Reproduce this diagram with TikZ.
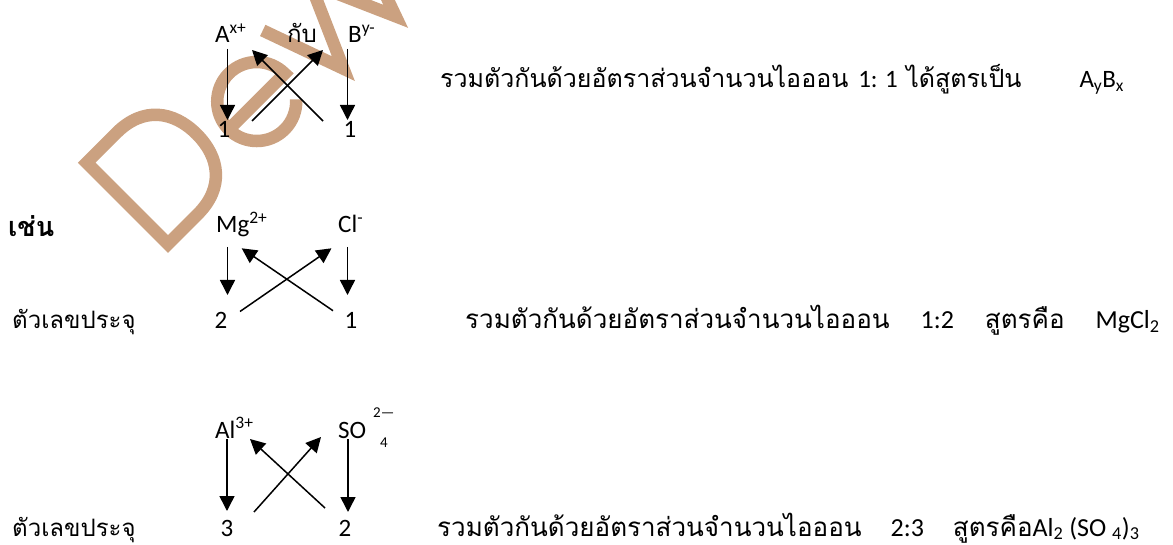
\documentclass[tikz,border=0pt]{standalone}
\usepackage{fontspec}
\setmainfont{Loma}[Script=Thai]
\newfontfamily\latn{Carlito}
\usetikzlibrary{arrows.meta}
\definecolor{wmc}{RGB}{203,161,128}
\begin{document}
\begin{tikzpicture}[x=1pt,y=-1pt,
  txt/.style={anchor=base west, inner sep=0pt, font=\fontsize{25}{28}\selectfont},
  big/.style={anchor=base west, inner sep=0pt, font=\fontsize{26}{29}\selectfont},
  lat/.style={anchor=base west, inner sep=0pt, font=\latn\fontsize{25}{28}\selectfont},
  num/.style={anchor=base, inner sep=0pt, font=\latn\fontsize{25}{28}\selectfont},
  sm/.style={anchor=base west, inner sep=0pt, font=\latn\fontsize{15}{17}\selectfont},
  arr/.style={line width=1.5pt, -{Triangle[width=15pt,length=15pt]}},
  wm/.style={draw=wmc, line width=12.5pt, line join=miter}]
\useasboundingbox (0,0) rectangle (1173,545);
% watermark
\begin{scope}[shift={(168,244)}, rotate=45, x=1pt, y=1pt]
  \draw[wm] (0,0) -- (0,115) -- (42,115) .. controls (80,115) and (98,90) .. (98,57.5)
        .. controls (98,25) and (80,0) .. (42,0) -- cycle;
  \draw[wm] (124,38) -- (203,38) arc[start angle=0, end angle=318, radius=39.5];
  \draw[wm] (218,84) -- (248,0) -- (285,84) -- (322,0) -- (352,84);
\end{scope}
% diagram 1
\node[lat] (A) at (215,43) {A\textsuperscript{x+}};
\node[txt, font=\fontsize{24}{27}\selectfont] (kap) at (287,43) {กับ};
\node[lat] (B) at (348,43) {B\textsuperscript{y-}};
\node[num] (n1a) at (224,138) {1};
\node[num] (n1b) at (350,138) {1};
\coordinate (a1) at (227.5,49); \coordinate (a1e) at (227.5,120);
\coordinate (b1) at (347.5,49); \coordinate (b1e) at (347.5,120);
\coordinate (c1s) at (252,121); \coordinate (c1e) at (323,50);
\coordinate (d1s) at (323,121); \coordinate (d1e) at (252,50);
\draw[arr] (a1) -- (a1e);
\draw[arr] (b1) -- (b1e);
\draw[arr] (c1s) -- (c1e);
\draw[arr] (d1s) -- (d1e);
\node[txt] (r1) at (440,88) {รวมตัวกันด้วยอัตราส่วนจำนวนไอออน\hspace{10pt}{\latn 1: 1} ได้สูตรเป็น\hspace{58pt}{\latn A\textsubscript{y}B\textsubscript{x}}};
% diagram 2
\node[txt, font=\bfseries\fontsize{27}{30}\selectfont] (chen) at (8,237) {เช่น};
\node[lat] (Mg) at (216,233) {Mg\textsuperscript{2+}};
\node[lat] (Cl) at (338,233) {Cl\textsuperscript{-}};
\node[txt, font=\fontsize{24}{27}\selectfont] (lab2) at (12,329) {ตัวเลขประจุ};
\node[num] (n2a) at (221,329) {2};
\node[num] (n2b) at (351,329) {1};
\coordinate (a2) at (227.5,247); \coordinate (a2e) at (227.5,295);
\coordinate (b2) at (347.5,247); \coordinate (b2e) at (347.5,295);
\coordinate (c2s) at (240,311.5); \coordinate (c2e) at (331.5,248.3);
\coordinate (d2s) at (333,310.7); \coordinate (d2e) at (241.7,248.3);
\draw[arr] (a2) -- (a2e);
\draw[arr] (b2) -- (b2e);
\draw[arr] (c2s) -- (c2e);
\draw[arr] (d2s) -- (d2e);
\node[big] (r2) at (465,329) {รวมตัวกันด้วยอัตราส่วนจำนวนไอออน\hspace{31pt}{\latn 1:2}\hspace{31pt}สูตรคือ\hspace{31pt}{\latn MgCl\textsubscript{2}}};
% diagram 3
\node[lat] (Al) at (215,438) {Al\textsuperscript{3+}};
\node[lat] (SO) at (338,438) {SO};
\node[sm] (so2) at (373,417) {2\textemdash};
\node[sm] (so4) at (380,447) {4};
\node[txt, font=\fontsize{24}{27}\selectfont] (lab3) at (12,536) {ตัวเลขประจุ};
\node[num] (n3a) at (227,536) {3};
\node[num] (n3b) at (345,536) {2};
\coordinate (a3) at (227,439); \coordinate (a3e) at (227,511);
\coordinate (b3) at (348,439); \coordinate (b3e) at (348,512);
\coordinate (c3s) at (254,512); \coordinate (c3e) at (321,437);
\coordinate (d3s) at (325,508); \coordinate (d3e) at (250,439);
\draw[arr] (a3) -- (a3e);
\draw[arr] (b3) -- (b3e);
\draw[arr] (c3s) -- (c3e);
\draw[arr] (d3s) -- (d3e);
\node[big] (r3) at (437,536) {รวมตัวกันด้วยอัตราส่วนจำนวนไอออน\hspace{29pt}{\latn 2:3}\hspace{29pt}สูตรคือ{\latn Al\textsubscript{2} (SO \textsubscript{4})\textsubscript{3}}};
\end{tikzpicture}
\end{document}
